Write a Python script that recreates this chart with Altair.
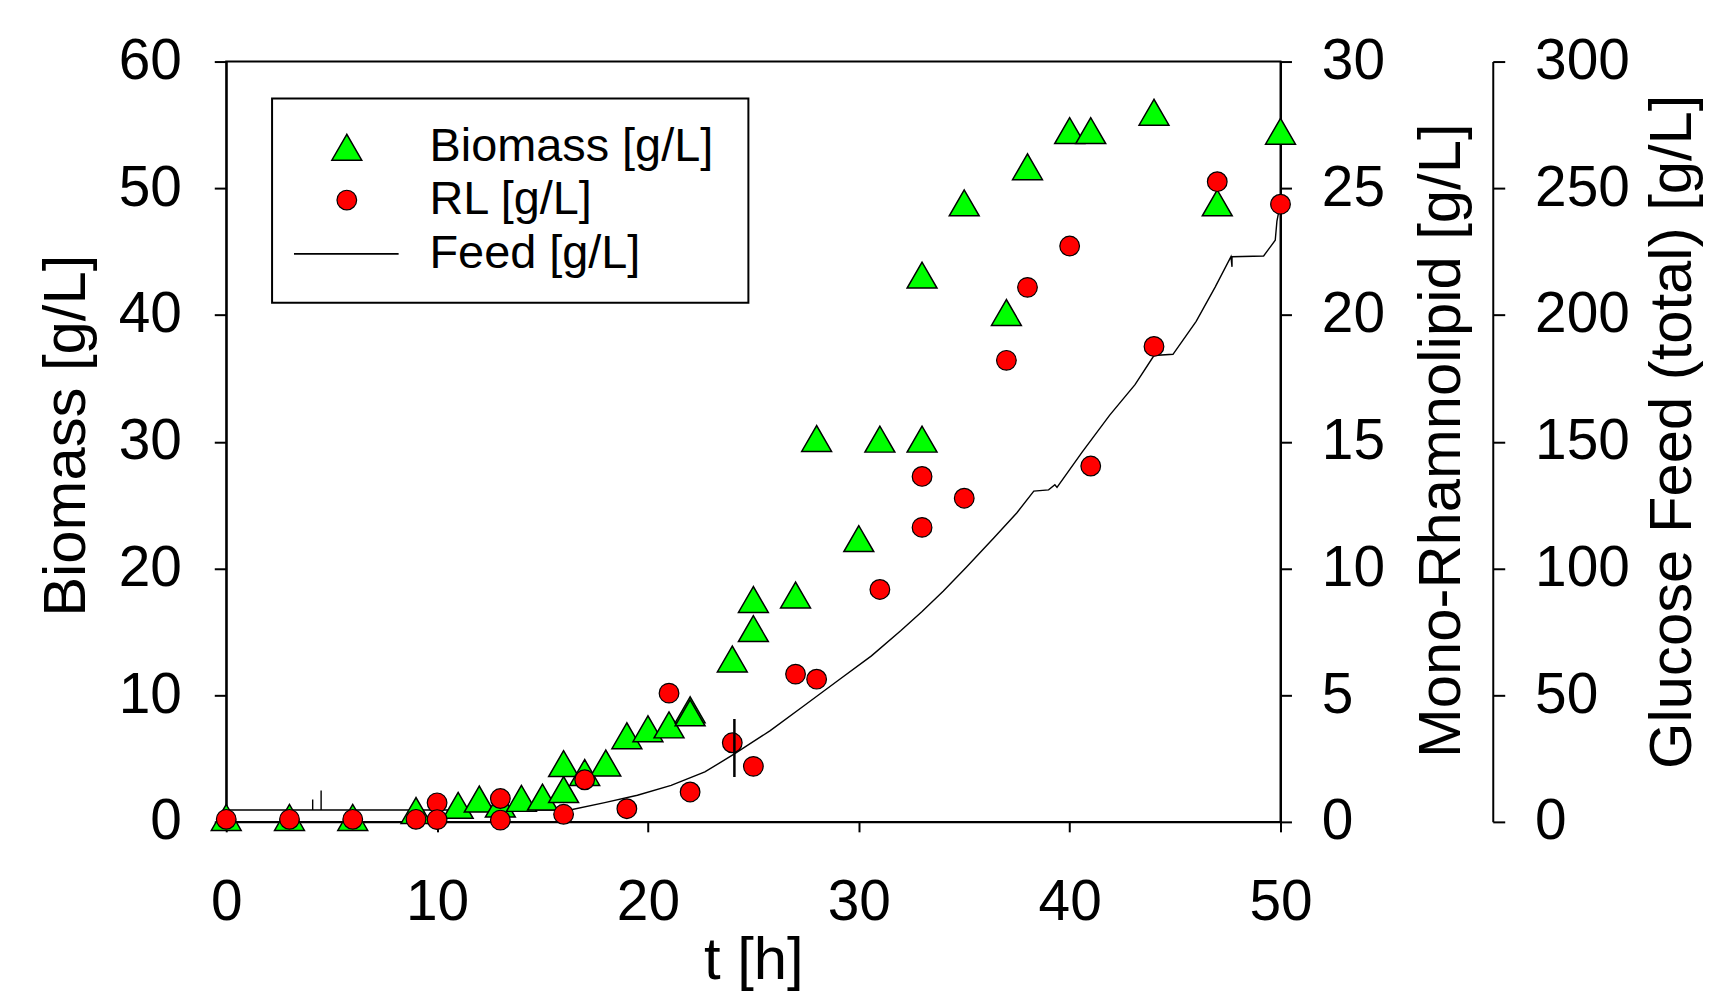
import altair as alt
import pandas as pd

# ---------------- data ----------------
biomass_t = [0, 3, 6, 9, 11, 12, 13, 14, 15, 16, 16, 17, 18, 19, 20, 21, 22, 22,
             24, 25, 25, 27, 28, 30, 31, 33, 33, 35, 37, 38, 40, 41, 44, 47, 50]
biomass = [0.35, 0.35, 0.35, 0.9, 1.3, 1.8, 1.4, 1.85, 1.95, 2.55, 4.6, 3.9, 4.65,
           6.8, 7.35, 7.65, 8.85, 8.6, 12.85, 15.25, 17.55, 17.9, 30.25, 22.35,
           30.2, 30.2, 43.15, 48.85, 40.2, 51.7, 54.55, 54.55, 56.0, 48.85, 54.5]

rl_t = [0, 3, 6, 9, 10, 10, 13, 13, 16, 17, 19, 21, 22, 24, 25, 27, 28, 31, 33, 33,
        35, 37, 38, 40, 41, 44, 47, 50]
rl = [0.1, 0.1, 0.1, 0.1, 0.75, 0.09, 0.92, 0.07, 0.3, 1.66, 0.52, 5.08, 1.18, 3.12,
      2.19, 5.83, 5.63, 9.17, 11.62, 13.63, 12.77, 18.21, 21.09, 22.72, 14.04,
      18.76, 25.26, 24.37]

err_t = [24.1]
err_lo = [1.77]
err_hi = [4.06]

feed_t = [0, 4.1, 4.1, 4.1, 4.5, 4.5, 4.5, 16.3, 17.95, 19.5, 21.1, 22.7, 24.1, 25.8,
          27.4, 29.0, 30.6, 32.0, 33.0, 34.0, 35.1, 36.4, 37.5, 38.3, 39.0, 39.3,
          39.4, 40.6, 41.9, 43.1, 44.0, 44.9, 46.0, 46.9, 47.65, 47.7, 47.7, 49.2,
          49.75, 49.83, 49.9]
feed = [4.7, 4.7, 8.8, 4.7, 4.7, 12.4, 4.7, 4.7, 7.6, 10.5, 14.4, 19.7, 26.8, 36.0,
        45.8, 55.7, 65.5, 75.5, 83.0, 91.0, 100.5, 112.0, 122.0, 130.5, 131.0, 133.0,
        132.0, 146.0, 160.5, 172.5, 184.0, 184.5, 197.5, 211.0, 223.0, 219.0, 223.0,
        223.3, 229.5, 237.0, 240.0]

x_ticks = [0, 10, 20, 30, 40, 50]
bio_ticks = [0, 10, 20, 30, 40, 50, 60]
rl_ticks = [0, 5, 10, 15, 20, 25, 30]
feed_ticks = [0, 50, 100, 150, 200, 250, 300]

SERIES = ["Biomass [g/L]", "RL [g/L]", "Feed [g/L]"]
GREEN = "#00ff00"
RED = "#ff0000"
TRI_SIZE = 900
CIRC_SIZE = 390

bio_df = pd.DataFrame({"t": biomass_t, "v": biomass})
rl_df = pd.DataFrame({"t": rl_t, "v": rl})
err_df = pd.DataFrame({"t": err_t, "lo": err_lo, "hi": err_hi})
feed_df = pd.DataFrame({"t": feed_t, "v": feed, "idx": list(range(len(feed_t)))})

FONT = "Liberation Sans"

x_enc = alt.X(
    "t:Q",
    scale=alt.Scale(domain=[0, 50], nice=False, zero=False),
    axis=alt.Axis(values=x_ticks, title="t [h]", orient="bottom", tickSize=10,
                  labelPadding=43, labelFlush=False, format="d",
                  titleX=529, titleY=157, titleAlign="center",
                  titleBaseline="alphabetic"),
)

feed_axis = alt.Axis(orient="right", offset=213, values=feed_ticks,
                     title="Glucose Feed (total) [g/L]", tickSize=12, labelPadding=30,
                     titleX=180, titleY=371, titleAngle=270, titleAlign="center",
                     titleBaseline="middle", format="d")
bio_axis = alt.Axis(orient="left", values=bio_ticks, title="Biomass [g/L]",
                    tickSize=12, labelPadding=33, titleX=-160, titleY=375,
                    titleAngle=270, titleAlign="center", titleBaseline="middle",
                    format="d")
rl_axis = alt.Axis(orient="right", values=rl_ticks, title="Mono-Rhamnolipid [g/L]",
                   tickSize=11, labelPadding=30, titleX=162, titleY=380,
                   titleAngle=270, titleAlign="center", titleBaseline="middle",
                   format="d")

feed_line = alt.Chart(feed_df).mark_line(color="black", strokeWidth=1.4).encode(
    x=x_enc,
    y=alt.Y("v:Q", scale=alt.Scale(domain=[0, 300], nice=False), axis=feed_axis),
    order="idx:Q",
)

bio_pts = alt.Chart(bio_df).mark_point(
    shape="triangle-up", size=TRI_SIZE, filled=True, fill=GREEN,
    stroke="black", strokeWidth=1.5, opacity=1
).encode(
    x=x_enc,
    y=alt.Y("v:Q", scale=alt.Scale(domain=[0, 60], nice=False), axis=bio_axis),
)

rl_pts = alt.Chart(rl_df).mark_point(
    shape="circle", size=CIRC_SIZE, filled=True, fill=RED,
    stroke="black", strokeWidth=1.2, opacity=1
).encode(
    x=x_enc,
    y=alt.Y("v:Q", scale=alt.Scale(domain=[0, 30], nice=False), axis=rl_axis),
)

rl_err = alt.Chart(err_df).mark_rule(color="black", strokeWidth=2.5).encode(
    x=x_enc,
    y=alt.Y("lo:Q", scale=alt.Scale(domain=[0, 30], nice=False), axis=rl_axis),
    y2="hi:Q",
)

rl_layer = alt.layer(rl_pts, rl_err)

# ---------------- legend (drawn as a boxed key) ----------------
one = pd.DataFrame({"k": [0]})
leg_box = alt.Chart(one).mark_rect(fill="white", stroke="black", strokeWidth=2).encode(
    x=alt.value(46), x2=alt.value(524), y=alt.value(37), y2=alt.value(242))
leg_tri = alt.Chart(one).mark_point(
    shape="triangle-up", size=TRI_SIZE, filled=True, fill=GREEN, stroke="black",
    strokeWidth=1.5, opacity=1).encode(x=alt.value(121), y=alt.value(86))
leg_circ = alt.Chart(one).mark_point(
    shape="circle", size=CIRC_SIZE, filled=True, fill=RED, stroke="black",
    strokeWidth=1.2, opacity=1).encode(x=alt.value(121), y=alt.value(139))
leg_line = alt.Chart(one).mark_rule(color="black", strokeWidth=1.6).encode(
    x=alt.value(68), x2=alt.value(173), y=alt.value(193))


def leg_text(label, ypos):
    df = pd.DataFrame({"label": [label]})
    return alt.Chart(df).mark_text(
        align="left", baseline="middle", font=FONT, fontSize=47, color="black"
    ).encode(text="label:N", x=alt.value(204), y=alt.value(ypos))


leg_t1 = leg_text(SERIES[0], 86)
leg_t2 = leg_text(SERIES[1], 139)
leg_t3 = leg_text(SERIES[2], 193)

chart = (
    alt.layer(feed_line, bio_pts, rl_layer,
              leg_box, leg_tri, leg_circ, leg_line, leg_t1, leg_t2, leg_t3)
    .resolve_scale(y="independent")
    .properties(
        width=1058, height=763,
        autosize=alt.AutoSizeParams(type="none"),
        padding={"left": 219, "top": 52, "right": 430, "bottom": 174},
        background="white",
    )
    .configure_view(stroke="black", strokeWidth=2)
    .configure_axis(
        grid=False,
        labelFont=FONT, labelFontSize=57, labelColor="black",
        titleFont=FONT, titleFontSize=60, titleFontWeight="normal", titleColor="black",
        domainColor="black", domainWidth=2, tickColor="black", tickWidth=2,
        labelOverlap=False,
    )
)

chart.save("out.html", embed_options={"renderer": "svg", "actions": False})
